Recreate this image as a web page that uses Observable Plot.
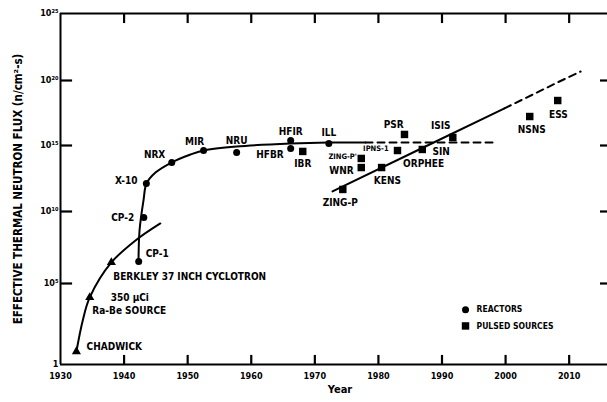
<!DOCTYPE html>
<html><head><meta charset="utf-8">
<script src="https://cdn.jsdelivr.net/npm/d3@7"></script>
<script src="https://cdn.jsdelivr.net/npm/@observablehq/plot@0.6"></script>
<style>body{margin:0;background:#fff} svg{display:block}</style>
</head><body><div id="chart"></div>
<script>
// ---- axis ticks ----
const xTicks = [1930, 1940, 1950, 1960, 1970, 1980, 1990, 2000, 2010];
const yTicks = [0, 5, 10, 15, 20, 25]; // log10 of flux

// ---- reactors (circles) ----
const reactorNames = ["CP-1", "CP-2", "X-10", "NRX", "MIR", "NRU", "HFIR", "HFBR", "ILL"];
const reactorYears = [1942.3, 1943.1, 1943.5, 1947.5, 1952.5, 1957.7, 1966.2, 1966.2, 1972.2];
const reactorLogFlux = [6.53, 9.58, 12.12, 13.71, 14.62, 14.47, 15.38, 14.77, 15.15];

// ---- pulsed sources (squares) ----
const pulsedNames = ["IBR", "ZING-P'", "WNR", "ZING-P", "KENS", "IPNS-1", "PSR", "SIN", "ISIS", "NSNS", "ESS"];
const pulsedYears = [1968.1, 1977.3, 1977.3, 1974.4, 1980.5, 1983.0, 1984.1, 1986.9, 1991.7, 2003.8, 2008.2];
const pulsedLogFlux = [14.55, 14.02, 13.33, 11.67, 13.33, 14.62, 15.85, 14.70, 15.62, 17.23, 18.46];

// ---- early sources (triangles) ----
const earlyNames = ["CHADWICK", "350 µCi Ra-Be SOURCE", "BERKLEY 37 INCH CYCLOTRON"];
const earlyYears = [1932.5, 1934.6, 1938.0];
const earlyLogFlux = [0.80, 4.14, 6.46];

// ---- trend curves ----
const earlyCurveYears = [1932.5, 1933.5, 1934.6, 1938.0, 1941.8, 1945.7];
const earlyCurveLogFlux = [0.80, 2.72, 4.14, 6.46, 7.99, 9.17];

const reactorCurveYears = [1942.27, 1942.43, 1943.05, 1943.53, 1944.94, 1947.46, 1950.45, 1952.49, 1957.68, 1966.17, 1972.15, 1977.97];
const reactorCurveLogFlux = [6.53, 8.68, 10.83, 12.12, 12.95, 13.71, 14.32, 14.62, 14.92, 15.15, 15.23, 15.23];
const reactorProjYears = [1977.97, 1998.73];
const reactorProjLogFlux = [15.23, 15.23];

const pulsedTrendYears = [1972.78, 1987.72, 1999.83];
const pulsedTrendLogFlux = [11.52, 15.0, 17.86];
const pulsedProjYears = [1999.83, 2008.8, 2011.8];
const pulsedProjLogFlux = [17.86, 20.0, 20.67];

// ---- annotation labels [text, year, log10 flux] ----
const labelsStart = [
  ["CHADWICK", 1934.1, 1.11], ["350 µCi", 1937.9, 4.14], ["Ra-Be SOURCE", 1935.0, 3.33],
  ["BERKLEY 37 INCH CYCLOTRON", 1938.3, 5.49], ["CP-1", 1943.4, 7.08], ["SIN", 1988.5, 14.55]
];
const labelsEnd = [
  ["CP-2", 1941.6, 9.58], ["X-10", 1942.1, 12.35], ["HFBR", 1965.1, 14.32], ["WNR", 1976.1, 13.11]
];
const labelsMiddle = [
  ["NRX", 1944.8, 14.32], ["MIR", 1951.1, 15.31], ["NRU", 1957.7, 15.38], ["HFIR", 1966.2, 16.08],
  ["IBR", 1968.1, 13.64], ["ILL", 1972.2, 16.0], ["ZING-P", 1974.0, 10.68], ["PSR", 1982.4, 16.62],
  ["ISIS", 1989.8, 16.54], ["ORPHEE", 1987.1, 13.64], ["KENS", 1981.4, 12.35], ["NSNS", 2004.1, 16.23],
  ["ESS", 2008.3, 17.38]
];
const labelsSmallEnd = [["ZING-P'", 1976.6, 14.17], ["IPNS-1", 1981.6, 14.77]];

// legend entries [text, year, log10 flux]
const legendItems = [["REACTORS", 1993.7, 3.38], ["PULSED SOURCES", 1993.7, 2.38]];

const yTitle = "EFFECTIVE THERMAL NEUTRON FLUX (n/cm²-s)";
const xTitle = "Year";

// ---- build tables ----
const zip = (n, xs, ys) => n.map((name, i) => ({name, year: xs[i], logFlux: ys[i]}));
const pts = (xs, ys) => xs.map((year, i) => ({year, logFlux: ys[i]}));
const lab = a => a.map(([text, year, logFlux]) => ({text, year, logFlux}));

const reactors = zip(reactorNames, reactorYears, reactorLogFlux);
const pulsed = zip(pulsedNames, pulsedYears, pulsedLogFlux);
const early = zip(earlyNames, earlyYears, earlyLogFlux);

const supMap = {"0":"⁰","1":"¹","2":"²","3":"³","4":"⁴","5":"⁵","6":"⁶","7":"⁷","8":"⁸","9":"⁹"};
const fmtY = e => e === 0 ? "1" : "10" + String(e).split("").map(c => supMap[c]).join("");

const FONT = "'DejaVu Sans Condensed','DejaVu Sans',sans-serif";
const W = 607, H = 402, ML = 60, MR = 0, MT = 13, MB = 38;

// inward tick lengths, expressed in axis units
const xMin = xTicks[0], xMax = 2016.5, yMin = yTicks[0], yMax = yTicks[yTicks.length - 1];
const xFrameRight = 2016.03;
const leftTickLen = 1.9, rightTickLen = 1.1, topTickLen = 0.75, bottomTickLen = 0.56;

const chart = Plot.plot({
  width: W, height: H,
  marginLeft: ML, marginRight: MR, marginTop: MT, marginBottom: MB,
  style: {fontFamily: FONT, fontWeight: "bold", background: "white", color: "black"},
  x: {domain: [xMin, xMax], range: [60, 610]},
  y: {type: "linear", domain: yTicks, range: [364, 283, 211, 145, 80, 13]},
  marks: [
    // frame (left, top, bottom)
    Plot.ruleX([xMin], {stroke: "black", strokeWidth: 2}),
    Plot.ruleY([yMin], {stroke: "black", strokeWidth: 2}),
    Plot.ruleY([yMax], {stroke: "black", strokeWidth: 2}),
    // tick labels
    Plot.axisY(yTicks, {anchor: "left", tickSize: 0, tickPadding: 2, tickFormat: fmtY, fontSize: 9, label: null}),
    Plot.axisX(xTicks, {anchor: "bottom", tickSize: 0, tickPadding: 8, tickFormat: d => String(d), fontSize: 9, label: null}),
    // titles
    Plot.text([yTitle], {text: d => d, frameAnchor: "left", textAnchor: "middle", rotate: -90, dx: -42, fontSize: 11.5}),
    Plot.text([xTitle], {text: d => d, frameAnchor: "bottom", textAnchor: "middle", dy: 28, dx: 6, fontSize: 11}),
    // curves
    Plot.line(pts(earlyCurveYears, earlyCurveLogFlux), {x: "year", y: "logFlux", curve: "catmull-rom", stroke: "black", strokeWidth: 2}),
    Plot.line(pts(reactorCurveYears, reactorCurveLogFlux), {x: "year", y: "logFlux", curve: "catmull-rom", stroke: "black", strokeWidth: 2}),
    Plot.line(pts(reactorProjYears, reactorProjLogFlux), {x: "year", y: "logFlux", stroke: "black", strokeWidth: 2, strokeDasharray: "7,5"}),
    Plot.line(pts(pulsedTrendYears, pulsedTrendLogFlux), {x: "year", y: "logFlux", stroke: "black", strokeWidth: 2}),
    Plot.line(pts(pulsedProjYears, pulsedProjLogFlux), {x: "year", y: "logFlux", stroke: "black", strokeWidth: 2, strokeDasharray: "7,5"}),
    // points
    Plot.dot(early, {x: "year", y: "logFlux", symbol: "triangle", r: 3.4, fill: "black"}),
    Plot.dot(reactors, {x: "year", y: "logFlux", symbol: "circle", r: 3.5, fill: "black"}),
    Plot.dot(pulsed, {x: "year", y: "logFlux", symbol: "square", r: 4.2, fill: "black"}),
    // labels
    Plot.text(lab(labelsStart), {x: "year", y: "logFlux", text: "text", textAnchor: "start", fontSize: 10}),
    Plot.text(lab(labelsEnd), {x: "year", y: "logFlux", text: "text", textAnchor: "end", fontSize: 10}),
    Plot.text(lab(labelsMiddle), {x: "year", y: "logFlux", text: "text", textAnchor: "middle", fontSize: 10}),
    Plot.text(lab(labelsSmallEnd), {x: "year", y: "logFlux", text: "text", textAnchor: "end", fontSize: 7.5}),
    // legend
    Plot.dot(lab(legendItems.slice(0, 1)), {x: "year", y: "logFlux", symbol: "circle", r: 3.5, fill: "black"}),
    Plot.dot(lab(legendItems.slice(1)), {x: "year", y: "logFlux", symbol: "square", r: 4.2, fill: "black"}),
    Plot.text(lab(legendItems), {x: "year", y: "logFlux", text: "text", textAnchor: "start", dx: 11, fontSize: 8.5}),
    // inward tick marks, drawn last so nothing covers them
    Plot.ruleY(yTicks.slice(1, -1), {y: d => d, x1: xMin, x2: xMin + leftTickLen, stroke: "black", strokeWidth: 2.2}),
    Plot.ruleY(yTicks.slice(1, -1), {y: d => d, x1: xFrameRight - rightTickLen, x2: xMax, stroke: "black", strokeWidth: 2.2}),
    Plot.ruleX(xTicks.slice(1), {x: d => d, y1: yMax, y2: yMax - topTickLen, stroke: "black", strokeWidth: 2.2}),
    Plot.ruleX(xTicks.slice(1), {x: d => d, y1: yMin, y2: yMin + bottomTickLen, stroke: "black", strokeWidth: 2.2})
  ]
});
document.getElementById("chart").appendChild(chart);
</script>
</body></html>
